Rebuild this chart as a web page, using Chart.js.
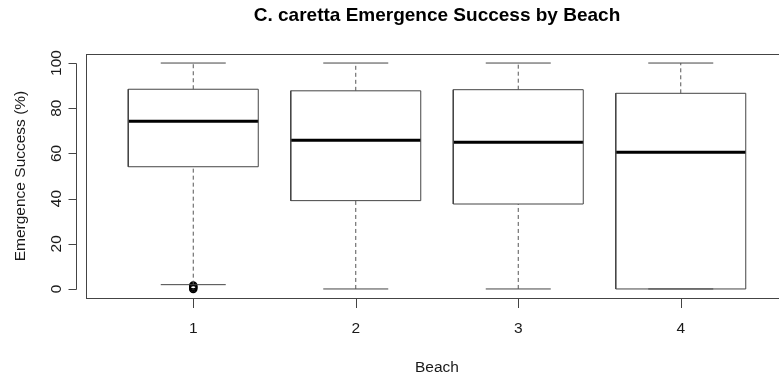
<!DOCTYPE html>
<html>
<head>
<meta charset="utf-8">
<script src="https://cdn.jsdelivr.net/npm/chart.js@4.4.1/dist/chart.umd.min.js"></script>
<style>
  html, body { margin: 0; padding: 0; background: #ffffff; overflow: hidden; width: 779px; height: 377px; }
  canvas { display: block; }
</style>
</head>
<body>
<canvas id="c" width="800" height="377"></canvas>
<script>
// ---- data ----
const beaches       = [1, 2, 3, 4];
const xTickLabels   = ['1', '2', '3', '4'];
const whiskerLow    = [1.9, 0, 0, 0];
const quartile1     = [54.1, 39.1, 37.6, 0];
const medians       = [74.2, 65.8, 64.9, 60.5];
const quartile3     = [88.4, 87.7, 88.2, 86.6];
const whiskerHigh   = [100, 100, 100, 100];
const outlierBeach  = [1, 1, 1, 1];
const outlierValues = [0, 0.5, 1.0, 1.5];
const yTicks        = [0, 20, 40, 60, 80, 100];

const titleText  = 'C. caretta Emergence Success by Beach';
const xTitleText = 'Beach';
const yTitleText = 'Emergence Success (%)';

// ---- build line datasets from the arrays ----
const BOX_HALF = 0.4, STAPLE_HALF = 0.2;
const gap = x => ({ x: x, y: null });

const boxPts = [], medPts = [], whiskPts = [], staplePts = [];
beaches.forEach((b, i) => {
  boxPts.push({x: b - BOX_HALF, y: quartile1[i]}, {x: b + BOX_HALF, y: quartile1[i]},
              {x: b + BOX_HALF, y: quartile3[i]}, {x: b - BOX_HALF, y: quartile3[i]},
              {x: b - BOX_HALF, y: quartile1[i]}, gap(b));
  medPts.push({x: b - BOX_HALF, y: medians[i]}, {x: b + BOX_HALF, y: medians[i]}, gap(b));
  whiskPts.push({x: b, y: quartile3[i]}, {x: b, y: whiskerHigh[i]}, gap(b),
                {x: b, y: whiskerLow[i]}, {x: b, y: quartile1[i]}, gap(b));
  staplePts.push({x: b - STAPLE_HALF, y: whiskerHigh[i]}, {x: b + STAPLE_HALF, y: whiskerHigh[i]}, gap(b),
                 {x: b - STAPLE_HALF, y: whiskerLow[i]}, {x: b + STAPLE_HALF, y: whiskerLow[i]}, gap(b));
});
const outPts = outlierBeach.map((b, i) => ({x: b, y: outlierValues[i]}));

const lineDS = (data, color, width, dash) => ({
  data, showLine: true, spanGaps: false, borderColor: color, borderWidth: width,
  borderDash: dash || [], pointRadius: 0, fill: false, tension: 0, backgroundColor: 'transparent'
});

const FONT = '"Liberation Sans", Arial, sans-serif';
const TXT = '#1a1a1a';
const LINE = '#444444';

// ---- R-style axes, frame and titles ----
const rAxes = {
  id: 'rAxes',
  afterDatasetsDraw(chart) {
    const ctx = chart.ctx, a = chart.chartArea;
    const xs = chart.scales.x, ys = chart.scales.y;
    ctx.save();
    ctx.strokeStyle = LINE; ctx.lineWidth = 1;
    // frame
    ctx.strokeRect(Math.round(a.left) + 0.5, Math.round(a.top) + 0.5,
                   Math.round(a.right - a.left), Math.round(a.bottom - a.top));
    // y axis
    const yAxX = Math.round(a.left) - 10 + 0.5;
    const y0 = ys.getPixelForValue(yTicks[0]), y1 = ys.getPixelForValue(yTicks[yTicks.length - 1]);
    ctx.beginPath();
    ctx.moveTo(yAxX, Math.round(y0) + 0.5); ctx.lineTo(yAxX, Math.round(y1) + 0.5);
    yTicks.forEach(v => {
      const py = Math.round(ys.getPixelForValue(v)) + 0.5;
      ctx.moveTo(yAxX, py); ctx.lineTo(yAxX - 8, py);
    });
    ctx.stroke();
    // x ticks
    ctx.beginPath();
    beaches.forEach(b => {
      const px = Math.round(xs.getPixelForValue(b)) + 0.5;
      ctx.moveTo(px, a.bottom + 1); ctx.lineTo(px, a.bottom + 10);
    });
    ctx.stroke();
    // text
    ctx.fillStyle = TXT;
    ctx.font = '15.5px ' + FONT;
    ctx.textAlign = 'center'; ctx.textBaseline = 'middle';
    beaches.forEach((b, i) => ctx.fillText(xTickLabels[i], xs.getPixelForValue(b), 329));
    yTicks.forEach(v => {
      ctx.save();
      ctx.translate(57, ys.getPixelForValue(v));
      ctx.rotate(-Math.PI / 2);
      ctx.fillText(String(v), 0, 0);
      ctx.restore();
    });
    ctx.fillText(xTitleText, (a.left + a.right) / 2, 368);
    ctx.save();
    ctx.translate(21, (a.top + a.bottom) / 2);
    ctx.rotate(-Math.PI / 2);
    ctx.fillText(yTitleText, 0, 0);
    ctx.restore();
    ctx.fillStyle = '#000';
    ctx.font = 'bold 19px ' + FONT;
    ctx.fillText(titleText, (a.left + a.right) / 2, 16);
    ctx.restore();
  }
};

new Chart(document.getElementById('c'), {
  type: 'scatter',
  data: {
    datasets: [
      lineDS(whiskPts, '#555555', 1, [4, 3]),
      lineDS(staplePts, LINE, 1),
      lineDS(boxPts, LINE, 1),
      lineDS(medPts, '#000000', 3),
      { data: outPts, showLine: false, pointStyle: 'circle', pointRadius: 3.5,
        borderColor: '#000000', borderWidth: 1.5, backgroundColor: 'transparent' }
    ]
  },
  options: {
    responsive: false,
    animation: false,
    layout: { padding: { left: 86, top: 54, right: 12, bottom: 79 } },
    plugins: { legend: { display: false }, tooltip: { enabled: false }, title: { display: false } },
    scales: {
      x: { type: 'linear', min: 0.34, max: 4.66, display: false },
      y: { type: 'linear', min: -4, max: 104, display: false }
    }
  },
  plugins: [rAxes]
});
</script>
</body>
</html>
